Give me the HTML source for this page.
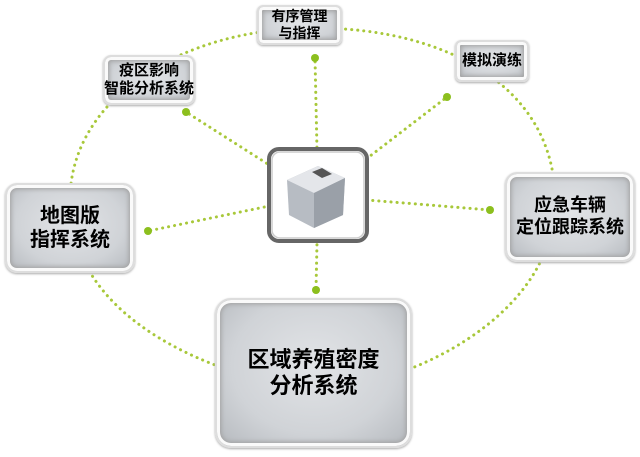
<!DOCTYPE html>
<html><head><meta charset="utf-8"><style>
body{margin:0;width:640px;height:457px;background:#fff;position:relative;overflow:hidden;font-family:"Liberation Sans","Noto Sans CJK SC",sans-serif}
.b{position:absolute;box-sizing:border-box;border-radius:12px;border:2px solid #ddd;white-space:nowrap;
background:radial-gradient(ellipse at 50% 45%,#e2e4e7 0%,#d0d3d7 60%,#b4b8bd 100%);
box-shadow:inset 0 0 0 3px #fafafa,inset 0 0 5px 4px #a0a0a0,0 1px 2px #aaa;
display:flex;align-items:center;justify-content:center;text-align:center;font-weight:bold;color:#000;line-height:1.2}
svg{position:absolute;left:0;top:0}
</style></head><body>
<svg width="640" height="457">
<g fill="none" stroke="#a8c83a" stroke-width="3" stroke-dasharray="0.1 6" stroke-linecap="round">
<path d="M315,28 C450,28 555,90 555,200 C555,290 470,345 412,368 L215,365 C150,340 70,290 70,200 C70,100 180,28 315,28 Z"/>
<line x1="318" y1="196" x2="315" y2="58"/>
<line x1="318" y1="196" x2="186" y2="112"/>
<line x1="318" y1="196" x2="447" y2="97"/>
<line x1="318" y1="196" x2="148" y2="231"/>
<line x1="318" y1="196" x2="490" y2="210"/>
<line x1="318" y1="196" x2="316" y2="290"/>
</g>
<g fill="#8cbf1e">
<circle cx="315" cy="58" r="4"/><circle cx="186" cy="112" r="4"/><circle cx="447" cy="97" r="4"/>
<circle cx="148" cy="231" r="4"/><circle cx="490" cy="210" r="4"/><circle cx="316" cy="290" r="4"/>
</g>
<rect x="269" y="149" width="98" height="92" rx="10" fill="#fff" stroke="#666" stroke-width="4"/>
<rect x="272" y="152" width="92" height="86" rx="8" fill="none" stroke="#ccc" stroke-width="1.5"/>
<path d="M287,180 L318,166 L345,178 L343,215 L314,228 L289,215 Z" fill="#b7bcc3"/>
<path d="M287,180 L314,193 L345,178 L318,166 Z" fill="#e4e6ea"/>
<path d="M314,193 L345,178 L343,215 L314,228 Z" fill="#9aa0a8"/>
<path d="M312,172 L322,168 L332,174 L322,178 Z" fill="#555"/>
</svg>
<div class="b" style="left:257px;top:5px;width:85px;height:40px;font-size:14px;border-radius:6px">有序管理<br>与指挥</div>
<div class="b" style="left:103px;top:55px;width:92px;height:50px;font-size:15px;border-radius:8px">疫区影响<br>智能分析系统</div>
<div class="b" style="left:455px;top:40px;width:74px;height:42px;font-size:15px;border-radius:6px">模拟演练</div>
<div class="b" style="left:5px;top:183px;width:130px;height:90px;font-size:20px">地图版<br>指挥系统</div>
<div class="b" style="left:505px;top:172px;width:130px;height:90px;font-size:18px">应急车辆<br>定位跟踪系统</div>
<div class="b" style="left:215px;top:298px;width:197px;height:150px;font-size:22px;border-radius:16px">区域养殖密度<br>分析系统</div>
</body></html>
